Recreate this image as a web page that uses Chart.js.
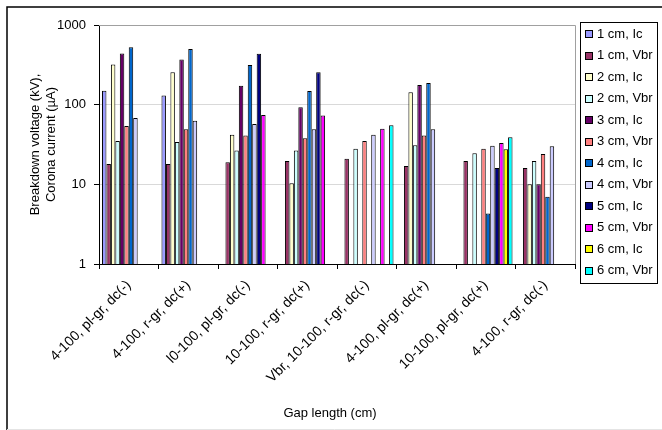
<!DOCTYPE html>
<html>
<head>
<meta charset="utf-8">
<script src="https://cdn.jsdelivr.net/npm/chart.js@4/dist/chart.umd.min.js"></script>
<style>
  html, body { margin: 0; padding: 0; background: #fff; }
  #wrap { width: 662px; height: 430px; }
</style>
</head>
<body>
<div id="wrap"><canvas id="c" width="662" height="430"></canvas></div>
<script>
// Test configurations along the x axis
const categories = [
  '4-100, pl-gr, dc(-)',
  '4-100, r-gr, dc(+)',
  'l0-100, pl-gr, dc(-)',
  '10-100, r-gr, dc(+)',
  'Vbr, 10-100, r-gr, dc(-)',
  '4-100, pl-gr, dc(+)',
  '10-100, pl-gr, dc(+)',
  '4-100, r-gr, dc(-)'
];

// Corona current (Ic, µA) and breakdown voltage (Vbr, kV) per gap length
const gap1Ic  = [150, 130, null, null, null, null, null, null];
const gap1Vbr = [18, 18, 19, 19.6, 21, 17, 19.6, 16];
const gap2Ic  = [320, 255, 42, 10.3, null, 143, null, 10];
const gap2Vbr = [35, 34, 26.5, 26.5, 28, 31, 24.5, 19.6];
const gap3Ic  = [440, 370, 173, 93, null, 176, null, 10];
const gap3Vbr = [54, 49, 41, 38, 35, 41, 28, 24];
const gap4Ic  = [525, 500, 315, 148, null, 187, 4.3, 7];
const gap4Vbr = [68, 63, 57, 49, 42, 49, 30.5, 30];
const gap5Ic  = [null, null, 435, 255, null, null, 16, null];
const gap5Vbr = [null, null, 74, 73, 50, null, 33, null];
const gap6Ic  = [null, null, null, null, null, null, 27.5, null];
const gap6Vbr = [null, null, null, null, 55, null, 39, null];

const seriesLabels = [
  '1 cm, Ic', '1 cm, Vbr', '2 cm, Ic', '2 cm, Vbr', '3 cm, Ic', '3 cm, Vbr',
  '4 cm, Ic', '4 cm, Vbr', '5 cm, Ic', '5 cm, Vbr', '6 cm, Ic', '6 cm, Vbr'
];
const seriesValues = [
  gap1Ic, gap1Vbr, gap2Ic, gap2Vbr, gap3Ic, gap3Vbr,
  gap4Ic, gap4Vbr, gap5Ic, gap5Vbr, gap6Ic, gap6Vbr
];
const seriesColors = [
  '#9999FF', '#993366', '#FFFFCC', '#CCFFFF', '#660066', '#FF8080',
  '#0066CC', '#CCCCFF', '#000080', '#FF00FF', '#FFFF00', '#00FFFF'
];

const yTickValues = [1, 10, 100, 1000];
const yTitleLines = ['Breakdown voltage (kV),', 'Corona current (µA)'];
const xTitle = 'Gap length (cm)';

const FONT = "'Liberation Sans', Arial, sans-serif";
Chart.defaults.font.family = FONT;
Chart.defaults.color = '#000';

// White page with the outer frame of the chart object
const framePlugin = {
  id: 'frame',
  beforeDraw(chart) {
    const ctx = chart.ctx;
    ctx.save();
    ctx.fillStyle = '#fff';
    ctx.fillRect(0, 0, chart.width, chart.height);
    ctx.strokeStyle = '#000';
    ctx.lineWidth = 1.5;
    ctx.beginPath();
    ctx.moveTo(7, chart.height);
    ctx.lineTo(7, 7);
    ctx.lineTo(chart.width, 7);
    ctx.stroke();
    ctx.strokeStyle = '#e4e4e4';
    ctx.lineWidth = 1;
    ctx.beginPath();
    ctx.moveTo(7, 429.5);
    ctx.lineTo(chart.width, 429.5);
    ctx.stroke();
    ctx.restore();
  }
};

// Grey top/right edge of the plot area
const plotEdgePlugin = {
  id: 'plotEdge',
  beforeDatasetsDraw(chart) {
    const { ctx, chartArea: a } = chart;
    ctx.save();
    ctx.strokeStyle = '#a0a0a0';
    ctx.lineWidth = 1;
    ctx.beginPath();
    ctx.moveTo(Math.round(a.left), Math.round(a.top) + 0.5);
    ctx.lineTo(Math.round(a.right) + 0.5, Math.round(a.top) + 0.5);
    ctx.lineTo(Math.round(a.right) + 0.5, Math.round(a.bottom));
    ctx.stroke();
    ctx.restore();
  }
};

// Category-axis caption, centred under the plot
const xTitlePlugin = {
  id: 'xTitle',
  afterDraw(chart) {
    const ctx = chart.ctx;
    const a = chart.chartArea;
    ctx.save();
    ctx.font = '13px ' + FONT;
    ctx.fillStyle = '#000';
    ctx.textAlign = 'center';
    ctx.textBaseline = 'middle';
    ctx.fillText(xTitle, (a.left + a.right) / 2 - 7, 413);
    ctx.restore();
  }
};

// Boxed legend to the right of the plot
const boxLegendPlugin = {
  id: 'boxLegend',
  afterDraw(chart) {
    const ctx = chart.ctx;
    const left = 580.5, top = 22.5, right = 657.5, bottom = 283.5;
    const rowStart = 34, rowStep = 21.5;
    ctx.save();
    ctx.fillStyle = '#fff';
    ctx.fillRect(left, top, right - left, bottom - top);
    ctx.strokeStyle = '#000';
    ctx.lineWidth = 1;
    ctx.strokeRect(left, top, right - left, bottom - top);
    ctx.font = '13px ' + FONT;
    ctx.textBaseline = 'middle';
    ctx.textAlign = 'left';
    chart.data.datasets.forEach((ds, i) => {
      const y = rowStart + i * rowStep;
      ctx.fillStyle = ds.backgroundColor;
      ctx.fillRect(585.5, Math.round(y - 4) + 0.5, 7, 7);
      ctx.strokeStyle = '#000';
      ctx.strokeRect(585.5, Math.round(y - 4) + 0.5, 7, 7);
      ctx.fillStyle = '#000';
      ctx.fillText(ds.label, 597, y);
    });
    ctx.restore();
  }
};

new Chart(document.getElementById('c'), {
  type: 'bar',
  data: {
    labels: categories,
    datasets: seriesLabels.map((label, i) => ({
      label,
      data: seriesValues[i],
      backgroundColor: seriesColors[i],
      borderColor: '#000',
      borderWidth: 1,
      categoryPercentage: 0.9,
      barPercentage: 1.0
    }))
  },
  options: {
    responsive: false,
    animation: false,
    devicePixelRatio: 1,
    layout: { padding: { top: 25, right: 87, left: 0, bottom: 0 } },
    plugins: {
      legend: { display: false },
      tooltip: { enabled: false }
    },
    scales: {
      x: {
        type: 'category',
        grid: { offset: true, drawOnChartArea: false, tickLength: 5, color: '#000' },
        border: { color: '#000', width: 1 },
        ticks: {
          minRotation: 45, maxRotation: 45, autoSkip: false,
          font: { size: 14 }, color: '#000', padding: 8
        },
        title: { display: false },
        afterFit(scale) { scale.height = 166; }
      },
      y: {
        type: 'logarithmic',
        min: 1,
        max: 1000,
        afterBuildTicks(scale) {
          scale.ticks = yTickValues.map(v => ({ value: v }));
        },
        grid: { color: '#d9d9d9', tickColor: '#000', tickLength: 5 },
        border: { color: '#000', width: 1 },
        ticks: {
          font: { size: 13 }, color: '#000', padding: 8,
          callback: (v) => String(v)
        },
        title: {
          display: true, text: yTitleLines, color: '#000',
          font: { size: 13 }, padding: { top: 28, bottom: 0 }
        },
        afterFit(scale) { scale.width = 99; }
      }
    }
  },
  plugins: [framePlugin, plotEdgePlugin, xTitlePlugin, boxLegendPlugin]
});
</script>
</body>
</html>
